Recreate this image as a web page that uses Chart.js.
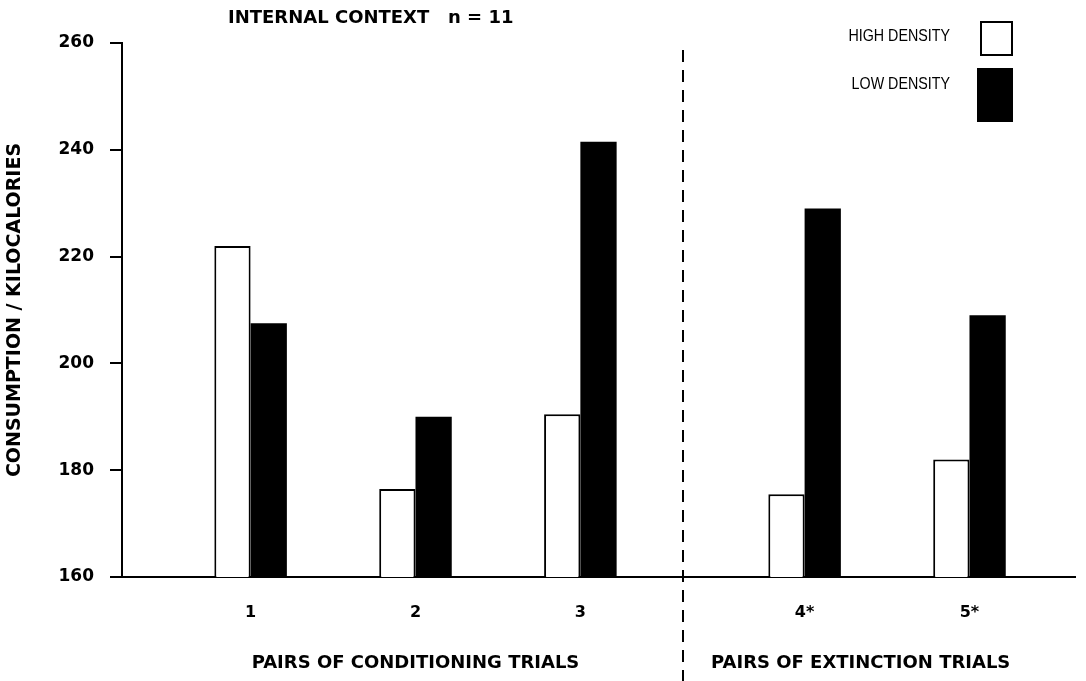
<!DOCTYPE html>
<html>
<head>
<meta charset="utf-8">
<script src="https://cdn.jsdelivr.net/npm/chart.js@4.4.1/dist/chart.umd.min.js"></script>
<style>
  html, body { margin: 0; padding: 0; background: #fff; }
  #wrap { width: 1086px; height: 681px; }
</style>
</head>
<body>
<div id="wrap"><canvas id="chart"></canvas></div>
<script>
const trials = ['1', '2', '3', '4*', '5*']
const highDensity = [222, 176.5, 190.5, 175.5, 182]
const lowDensity = [207.5, 190, 241.5, 229, 209]
const yTicks = [160, 180, 200, 220, 240, 260]

const boldFont = 'DejaVu Sans'

// extinction trials sit a bit further right, past the dashed divider
const xPos = i => i + 1 + (i >= 3 ? 0.36 : 0)

const extras = {
    id: 'extras',
    afterDraw(chart) {
        const ctx = chart.ctx
        const x = chart.scales.x
        ctx.save()

        // dashed divider
        ctx.strokeStyle = '#000'
        ctx.lineWidth = 2
        ctx.setLineDash([12, 8])
        const dx = Math.round(x.getPixelForValue(3.62))
        ctx.beginPath()
        ctx.moveTo(dx, 50)
        ctx.lineTo(dx, 681)
        ctx.stroke()
        ctx.setLineDash([])

        // heading
        ctx.fillStyle = '#000'
        ctx.font = 'bold 18px ' + boldFont
        ctx.textAlign = 'left'
        ctx.textBaseline = 'middle'
        ctx.fillText('INTERNAL CONTEXT   n = 11', 228, 18)

        // section titles under the axis
        ctx.textAlign = 'center'
        ctx.font = 'bold 18px ' + boldFont
        ctx.fillText('PAIRS OF CONDITIONING TRIALS', x.getPixelForValue(2), 663)
        ctx.fillText('PAIRS OF EXTINCTION TRIALS', x.getPixelForValue(4.7), 663)

        // legend, text left of box (narrow lettering like the original)
        const rows = [
            { ds: chart.data.datasets[0], ty: 36, box: [980, 21, 33, 35] },
            { ds: chart.data.datasets[1], ty: 84, box: [977, 68, 36, 54] }
        ]
        rows.forEach(r => {
            ctx.save()
            ctx.fillStyle = '#000'
            ctx.font = '17px "Liberation Sans"'
            ctx.textAlign = 'right'
            ctx.translate(950, r.ty)
            ctx.scale(0.84, 1)
            ctx.fillText(r.ds.label, 0, 0)
            ctx.restore()
            const [bx, by, bw, bh] = r.box
            ctx.fillStyle = r.ds.backgroundColor
            ctx.fillRect(bx, by, bw, bh)
            ctx.strokeStyle = '#000'
            ctx.lineWidth = 2
            ctx.strokeRect(bx + 1, by + 1, bw - 2, bh - 2)
        })
        ctx.restore()
    }
}

new Chart(document.getElementById('chart'), {
    type: 'bar',
    data: {
        datasets: [{
            label: 'HIGH DENSITY',
            data: highDensity.map((v, i) => ({ x: xPos(i), y: v })),
            backgroundColor: '#fff',
            borderColor: '#000',
            borderWidth: 2,
            borderSkipped: false
        }, {
            label: 'LOW DENSITY',
            data: lowDensity.map((v, i) => ({ x: xPos(i), y: v })),
            backgroundColor: '#000',
            borderColor: '#000',
            borderWidth: 0
        }]
    },
    options: {
        responsive: true,
        maintainAspectRatio: false,
        animation: false,
        categoryPercentage: 0.44,
        barPercentage: 1,
        layout: { padding: { top: 43, right: 11, left: 0, bottom: 0 } },
        plugins: {
            legend: { display: false },
            title: { display: false },
            tooltip: { enabled: false }
        },
        scales: {
            x: {
                type: 'linear',
                offset: false,
                min: 0.22,
                max: 6.0,
                afterFit: s => { s.height = 104 },
                afterBuildTicks: s => { s.ticks = trials.map((t, i) => ({ value: xPos(i) })) },
                grid: { display: false, drawTicks: false, offset: false },
                border: { display: true, color: '#000', width: 2 },
                ticks: {
                    padding: 26,
                    color: '#000',
                    font: { family: boldFont, size: 16, weight: 'bold' },
                    callback: v => {
                        const i = trials.findIndex((t, k) => Math.abs(xPos(k) - v) < 0.01)
                        return i >= 0 ? trials[i] : ''
                    }
                }
            },
            y: {
                min: 160,
                max: 260,
                afterFit: s => { s.width = 122 },
                afterBuildTicks: s => { s.ticks = yTicks.map(v => ({ value: v })) },
                grid: { drawOnChartArea: false, drawTicks: true, tickLength: 12, color: '#000', lineWidth: 2 },
                border: { display: true, color: '#000', width: 2 },
                ticks: {
                    padding: 16,
                    color: '#000',
                    font: { family: boldFont, size: 17, weight: 'bold' }
                },
                title: {
                    display: true,
                    text: 'CONSUMPTION / KILOCALORIES',
                    color: '#000',
                    padding: { top: 4, bottom: 0 },
                    font: { family: boldFont, size: 19, weight: 'bold' }
                }
            }
        }
    },
    plugins: [extras]
})
</script>
</body>
</html>
